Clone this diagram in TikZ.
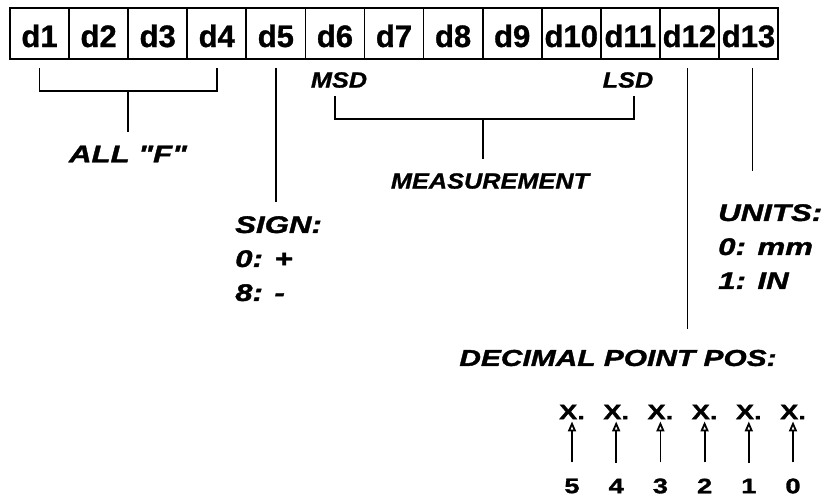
\documentclass[tikz,border=0pt]{standalone}
\usepackage{fontspec}
\setmainfont{Liberation Sans}
\newfontfamily\widefont[FakeStretch=1.3, FakeBold=1.5]{Liberation Sans}
\newfontfamily\midfont[FakeStretch=1.15, FakeBold=1]{Liberation Sans}
\newfontfamily\cellfont[FakeBold=1]{Liberation Sans}
\usetikzlibrary{arrows.meta,calc}

\tikzset{
  cell/.style={draw, line width=1.8pt, minimum width=59.08pt, minimum height=51pt,
    inner sep=0pt, text height=27pt, text depth=0pt,
    font=\cellfont\bfseries\fontsize{31}{36}\selectfont},
  tag/.style={inner sep=0pt, font=\midfont\bfseries\itshape\fontsize{22}{26}\selectfont},
  lbl/.style={inner sep=0pt, align=left, font=\widefont\bfseries\itshape\fontsize{24}{34}\selectfont},
  num/.style={inner sep=0pt, font=\widefont\bfseries\fontsize{21}{24}\selectfont},
  link/.style={line width=1.8pt},
}

\begin{document}
\begin{tikzpicture}[x=1pt, y=-1pt]
  \useasboundingbox (0,0) rectangle (828,501);
  \foreach \i in {1,...,13}
    \node[cell] (d\i) at ({10+59.08*(\i-0.5)}, 33.5) {d\i};

  \node[lbl] (allf) at (128,154) {ALL "F"};
  \draw[link] ([yshift=-8pt]d1.south) -- ++(0,23) -| ([yshift=-8pt]d4.south);
  \coordinate (fmid) at ($(d1.south)!.5!(d4.south)+(0,31)$);
  \draw[link, shorten >=14pt] (fmid) -- (fmid |- allf.north);

  \node[lbl, anchor=north west] (sign) at (235,216) {SIGN:\\0: +\\8: -};
  \draw[link, shorten <=8pt, shorten >=14pt] (d5.south) -- (d5.south |- sign.north);

  \node[tag] (msd) at (339,80) {MSD};
  \node[tag] (lsd) at (628,80) {LSD};
  \node[tag] (meas) at (490,181) {MEASUREMENT};
  \draw[link] ($(d6.south)+(0,36)$) |- ($(d11.south)+(4,59)$) -- ($(d11.south)+(4,36)$);
  \coordinate (mmid) at ($(d6.south)!.5!(d11.south)+(0,59)$);
  \draw[link, shorten >=14pt] (mmid) -- (mmid |- meas.north);

  \node[lbl, anchor=north west] (units) at (718,204) {UNITS:\\0: mm\\1: IN};
  \draw[link, shorten <=8pt, shorten >=33pt] ([xshift=4pt]d13.south) -- ([xshift=4pt]d13.south |- units.north);

  \node[lbl, font=\widefont\bfseries\itshape\fontsize{23}{34}\selectfont] (dpos) at (618,358) {DECIMAL POINT POS:};
  \draw[link, shorten <=8pt, shorten >=21pt] ([xshift=-2pt]d12.south) -- ([xshift=-2pt]d12.south |- dpos.north);

  \foreach \p [count=\k from 0] in {5,4,3,2,1,0} {
    \node[num] (x\p) at ({572+44.2*\k}, 412) {X.};
    \node[num] (n\p) at ({572+44.2*\k}, 486) {\p};
    \draw[link, -{Triangle[open, length=10pt, width=8pt]}, shorten <=16pt, shorten >=2pt]
      (n\p.north) -- (n\p.north |- x\p.south);
  }
\end{tikzpicture}
\end{document}
